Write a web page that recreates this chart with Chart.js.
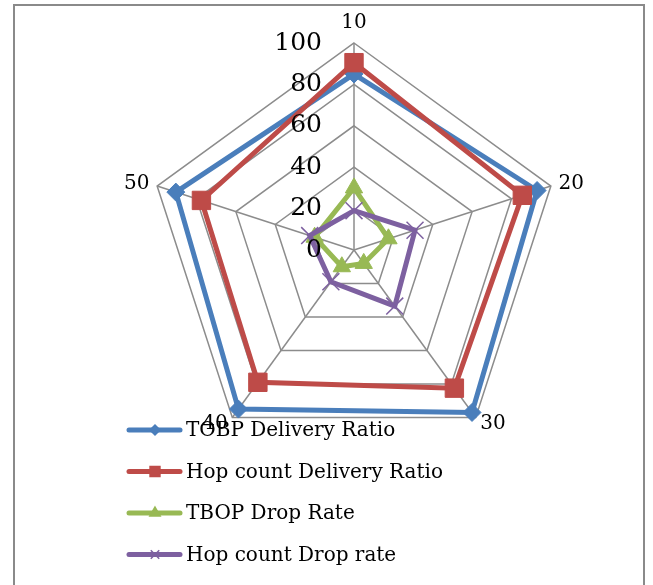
<!DOCTYPE html>
<html>
<head>
<meta charset="utf-8">
<title>Delivery ratio and drop rate</title>
<script src="https://cdn.jsdelivr.net/npm/chart.js@4.4.1/dist/chart.umd.min.js"></script>
<style>
  html, body { margin: 0; padding: 0; background: #fff; }
  #wrap { position: relative; width: 653px; height: 585px; overflow: hidden; }
  #frame { position: absolute; left: 13px; top: 4px; width: 632px; height: 640px;
           border: 2px solid #8a8a8a; box-sizing: border-box; }
  #c { position: absolute; left: 0; top: 0; }
</style>
</head>
<body>
<div id="wrap">
  <div id="frame"></div>
  <canvas id="c" width="653" height="585"></canvas>
</div>
<script>
// Axis categories (number of nodes) and ring values
const categories = ['10', '20', '30', '40', '50'];
const ringTicks = [0, 20, 40, 60, 80, 100];

// Series values
const tobpDeliveryRatio = [85, 93, 97, 95, 90.5];
const hopDeliveryRatio  = [90.5, 85.5, 82.5, 79, 77.5];
const tbopDropRate      = [30, 17.5, 8, 10, 20];
const hopDropRate       = [19, 31, 33.5, 19, 22.5];

const seriesNames = ['TOBP Delivery Ratio', 'Hop count Delivery Ratio', 'TBOP Drop Rate', 'Hop count Drop rate'];
const seriesValues = [tobpDeliveryRatio, hopDeliveryRatio, tbopDropRate, hopDropRate];
const seriesColors = ['#4A7EBB', '#BE4B48', '#98B954', '#7D60A0'];
const seriesStyles = ['rectRot', 'rect', 'triangle', 'crossRot'];
const markerRadius = [9, 13, 10, 12];
const legendMarkerRadius = [5, 7, 6, 6];

const serif = '"DejaVu Serif", "Liberation Serif", serif';

// Ring numbers and category names, placed with the radial scale's own geometry
const scaleText = {
  id: 'scaleText',
  afterDatasetsDraw(chart) {
    const r = chart.scales.r;
    const ctx = chart.ctx;
    ctx.save();
    ctx.fillStyle = '#000';
    ctx.textBaseline = 'middle';

    ctx.font = '25px ' + serif;
    ctx.textAlign = 'right';
    r.ticks.forEach(t => {
      const d = r.getDistanceFromCenterForValue(t.value);
      ctx.fillText(String(t.value), r.xCenter - 32, r.yCenter - d);
    });

    ctx.font = '20px ' + serif;
    categories.forEach((lab, i) => {
      const p = r.getPointPosition(i, r.drawingArea + 8);
      const dx = p.x - r.xCenter;
      const align = Math.abs(dx) < 1 ? 'center' : (dx > 0 ? 'left' : 'right');
      ctx.textAlign = align;
      ctx.fillText(lab, p.x, align === 'center' ? p.y - 12 : p.y);
    });
    ctx.restore();
  }
};

// Legend laid over the lower left of the plot
const overlayLegend = {
  id: 'overlayLegend',
  afterDraw(chart) {
    const ctx = chart.ctx;
    ctx.save();
    chart.data.datasets.forEach((ds, i) => {
      const y = 430 + i * 41.5;
      ctx.strokeStyle = ds.borderColor;
      ctx.lineWidth = 5;
      ctx.lineCap = 'round';
      ctx.beginPath();
      ctx.moveTo(129, y);
      ctx.lineTo(180, y);
      ctx.stroke();

      ctx.fillStyle = ds.borderColor;
      ctx.strokeStyle = ds.borderColor;
      ctx.lineWidth = 1.5;
      ctx.lineCap = 'butt';
      Chart.helpers.drawPoint(ctx, {
        pointStyle: ds.pointStyle,
        radius: legendMarkerRadius[i],
        rotation: 0,
        borderWidth: 1.5
      }, 155, y);

      ctx.fillStyle = '#000';
      ctx.font = '20px ' + serif;
      ctx.textAlign = 'left';
      ctx.textBaseline = 'middle';
      ctx.fillText(ds.label, 186, y + 1);
    });
    ctx.restore();
  }
};

const datasets = seriesNames.map((name, i) => ({
  label: name,
  data: seriesValues[i],
  borderColor: seriesColors[i],
  backgroundColor: seriesColors[i],
  pointBackgroundColor: seriesColors[i],
  pointBorderColor: seriesColors[i],
  pointStyle: seriesStyles[i],
  pointRadius: markerRadius[i],
  pointBorderWidth: i === 3 ? 1.5 : 1,
  borderWidth: 5,
  fill: false,
  tension: 0,
  order: seriesNames.length - 1 - i
}));

new Chart(document.getElementById('c'), {
  type: 'radar',
  data: { labels: categories, datasets },
  options: {
    responsive: false,
    devicePixelRatio: 1,
    animation: false,
    layout: { padding: { left: 147, top: 43, right: 92, bottom: 128 } },
    plugins: { legend: { display: false }, tooltip: { enabled: false } },
    scales: {
      r: {
        min: ringTicks[0],
        max: ringTicks[ringTicks.length - 1],
        ticks: { stepSize: ringTicks[1] - ringTicks[0], display: false },
        pointLabels: { display: false },
        grid: { color: '#8c8c8c', lineWidth: 1.5 },
        angleLines: { color: '#8c8c8c', lineWidth: 1.5 }
      }
    }
  },
  plugins: [scaleText, overlayLegend]
});
</script>
</body>
</html>
